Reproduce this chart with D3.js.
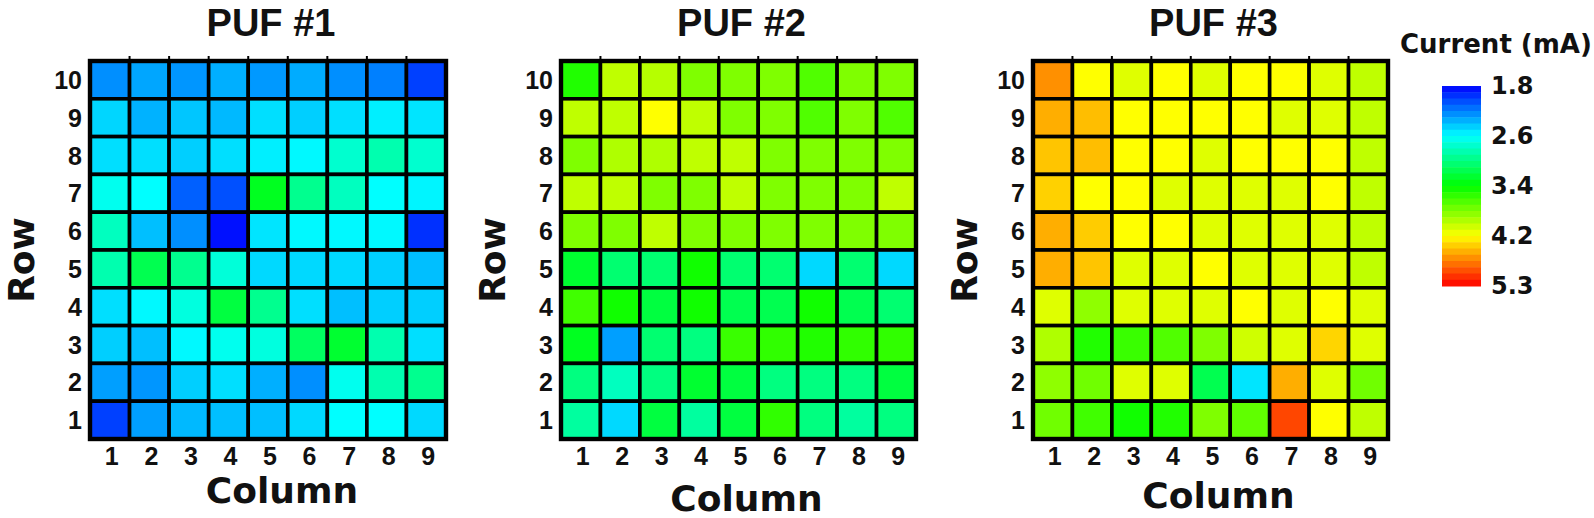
<!DOCTYPE html>
<html>
<head>
<meta charset="utf-8">
<script src="https://cdn.jsdelivr.net/npm/d3@7"></script>
<style>
  body { margin: 0; background: #fff; }
  svg { display: block; }
</style>
</head>
<body>
<div id="chart"></div>
<script>
// data, rows listed top (10) to bottom (1)
const columns = [1, 2, 3, 4, 5, 6, 7, 8, 9];
const rows = [10, 9, 8, 7, 6, 5, 4, 3, 2, 1];
const panelTitles = ["PUF #1", "PUF #2", "PUF #3"];

const puf1Values = [
    [2.25, 2.32, 2.27, 2.35, 2.28, 2.34, 2.25, 2.20, 2.00],
    [2.47, 2.36, 2.42, 2.38, 2.50, 2.45, 2.50, 2.55, 2.52],
    [2.50, 2.50, 2.45, 2.50, 2.55, 2.58, 2.75, 2.85, 2.75],
    [2.65, 2.60, 2.10, 2.05, 3.30, 2.95, 2.80, 2.60, 2.57],
    [2.80, 2.40, 2.25, 1.85, 2.52, 2.58, 2.58, 2.58, 1.95],
    [2.85, 3.15, 2.95, 2.72, 2.48, 2.48, 2.48, 2.45, 2.40],
    [2.50, 2.58, 2.70, 3.20, 2.95, 2.50, 2.40, 2.45, 2.45],
    [2.45, 2.40, 2.58, 2.65, 2.70, 3.10, 3.25, 2.85, 2.50],
    [2.30, 2.27, 2.45, 2.50, 2.35, 2.25, 2.65, 2.85, 2.95],
    [2.00, 2.30, 2.38, 2.40, 2.40, 2.48, 2.60, 2.60, 2.48]
];
const puf2Values = [
    [3.50, 4.00, 3.97, 3.80, 3.80, 3.80, 3.65, 3.80, 3.80],
    [4.00, 4.00, 4.20, 4.00, 3.80, 3.80, 3.65, 3.80, 3.65],
    [3.80, 3.95, 3.95, 4.00, 4.00, 3.80, 3.80, 3.80, 3.80],
    [4.00, 4.00, 3.80, 3.80, 4.00, 3.80, 3.80, 3.80, 4.00],
    [3.80, 3.80, 4.00, 3.80, 3.80, 3.80, 3.80, 3.80, 3.80],
    [3.25, 3.05, 3.05, 3.45, 3.05, 3.05, 2.48, 3.05, 2.48],
    [3.60, 3.45, 3.20, 3.45, 3.15, 3.15, 3.45, 3.15, 3.05],
    [3.30, 2.30, 3.05, 3.00, 3.58, 3.55, 3.50, 3.55, 3.55],
    [3.00, 2.80, 3.00, 3.25, 3.20, 3.00, 3.00, 3.00, 3.20],
    [2.90, 2.48, 3.20, 2.90, 3.20, 3.55, 3.00, 2.90, 3.00]
];
const puf3Values = [
    [4.68, 4.20, 4.10, 4.20, 4.10, 4.20, 4.20, 4.10, 4.00],
    [4.55, 4.48, 4.20, 4.20, 4.20, 4.20, 4.10, 4.10, 4.00],
    [4.45, 4.48, 4.20, 4.20, 4.10, 4.20, 4.20, 4.20, 4.00],
    [4.40, 4.20, 4.20, 4.10, 4.10, 4.10, 4.10, 4.20, 4.00],
    [4.55, 4.42, 4.20, 4.20, 4.10, 4.10, 4.10, 4.10, 4.00],
    [4.55, 4.45, 4.10, 4.10, 4.20, 4.10, 4.10, 4.10, 4.00],
    [4.10, 3.85, 4.10, 4.10, 4.10, 4.20, 4.10, 4.20, 4.10],
    [3.95, 3.50, 3.58, 3.65, 3.80, 4.05, 4.10, 4.38, 4.10],
    [3.85, 3.75, 4.10, 4.10, 3.15, 2.52, 4.55, 4.10, 3.75],
    [3.75, 3.60, 3.45, 3.50, 3.80, 3.70, 5.00, 4.20, 4.00]
];
const colorTicks = [1.8, 2.6, 3.4, 4.2, 5.3];
const colorbarTitle = "Current (mA)";

class HeatmapVis{
    constructor(svg, values, title, layout, color){
        this.svg = svg;
        this.values = values;
        this.title = title;
        this.layout = layout;
        this.color = color;
        this.initVis();
    }
    initVis(){
        let vis = this;
        let L = vis.layout;
        vis.g = vis.svg.append("g");

        vis.x = d3.scaleBand().domain(columns).range([L.x0, L.x0 + L.w]);
        vis.y = d3.scaleBand().domain(rows).range([L.y0, L.y0 + L.h]);

        // flatten the grid
        let cells = [];
        vis.values.forEach((r, i) => {
            r.forEach((v, j) => cells.push({row: rows[i], col: columns[j], value: v}));
        });

        vis.g.selectAll(".cell")
            .data(cells)
            .enter()
            .append("rect")
            .attr("class", "cell")
            .attr("x", d => vis.x(d.col))
            .attr("y", d => vis.y(d.row))
            .attr("width", vis.x.bandwidth())
            .attr("height", vis.y.bandwidth())
            .attr("fill", d => vis.color(d.value))
            .attr("stroke", "#000")
            .attr("stroke-width", 3.6);

        // outer frame
        vis.g.append("rect")
            .attr("x", L.x0).attr("y", L.y0)
            .attr("width", L.w).attr("height", L.h)
            .attr("fill", "none")
            .attr("stroke", "#000")
            .attr("stroke-width", 4.4);

        // little ticks over the top edge
        vis.g.selectAll(".topTick")
            .data(columns.slice(1))
            .enter()
            .append("line")
            .attr("x1", d => vis.x(d)).attr("x2", d => vis.x(d))
            .attr("y1", L.y0 - 5).attr("y2", L.y0)
            .attr("stroke", "#000")
            .attr("stroke-width", 2);

        // row labels
        vis.g.selectAll(".rowLabel")
            .data(rows)
            .enter()
            .append("text")
            .attr("class", "rowLabel")
            .attr("x", L.x0 - 8)
            .attr("y", d => vis.y(d) + vis.y.bandwidth()/2)
            .attr("dy", "0.36em")
            .attr("text-anchor", "end")
            .text(d => d);

        // column labels
        vis.g.selectAll(".colLabel")
            .data(columns)
            .enter()
            .append("text")
            .attr("class", "colLabel")
            .attr("x", d => vis.x(d) + vis.x.bandwidth()/2 + 2)
            .attr("y", L.y0 + L.h + 26)
            .attr("text-anchor", "middle")
            .text(d => d);

        vis.g.append("text")
            .attr("class", "panelTitle")
            .attr("x", L.x0 + L.w/2 + 3)
            .attr("y", 36)
            .attr("text-anchor", "middle")
            .text(vis.title);

        vis.g.append("text")
            .attr("class", "axisTitle")
            .attr("x", L.x0 + L.w/2 + L.colDx)
            .attr("y", L.colY)
            .attr("text-anchor", "middle")
            .text("Column");

        vis.g.append("text")
            .attr("class", "axisTitle")
            .attr("transform", `translate(${L.x0 - 56},${L.y0 + L.h/2 + 10}) rotate(-90)`)
            .attr("text-anchor", "middle")
            .text("Row");
    }
}

const width = 1594, height = 518;
const svg = d3.select("#chart").append("svg")
    .attr("width", width)
    .attr("height", height);

svg.append("style").text(`
    .rowLabel, .colLabel { font-family: "Liberation Sans", Arial, sans-serif; font-weight: bold; font-size: 25px; fill: #111; }
    .panelTitle { font-family: "Liberation Sans", Arial, sans-serif; font-weight: bold; font-size: 38px; fill: #111; }
    .axisTitle { font-family: "DejaVu Sans", sans-serif; font-weight: bold; font-size: 36px; fill: #111; }
    .cbText { font-family: "DejaVu Sans", sans-serif; font-weight: bold; fill: #111; }
`);

// jet style colour map, blue at low current, red at high
const color = d3.scaleLinear()
    .domain(colorTicks)
    .range(["#0000ff", "#00ffff", "#00ff00", "#ffff00", "#ff0000"])
    .clamp(true);

const panelLayout = [
    {x0: 90, y0: 61, w: 356, h: 378, colY: 503, colDx: 14},
    {x0: 561, y0: 61, w: 355, h: 378, colY: 511, colDx: 8},
    {x0: 1033, y0: 61, w: 355, h: 378, colY: 508, colDx: 8}
];
[puf1Values, puf2Values, puf3Values].forEach((vals, i) => {
    new HeatmapVis(svg, vals, panelTitles[i], panelLayout[i], color);
});

// colour bar
const bar = {x: 1442, y: 86, w: 39, h: 200, bands: 32};
const barScale = d3.scaleLinear()
    .domain(colorTicks)
    .range(colorTicks.map((d, i) => bar.y + i * bar.h/(colorTicks.length - 1)));

const bandH = bar.h / bar.bands;
svg.append("g").selectAll("rect")
    .data(d3.range(bar.bands))
    .enter()
    .append("rect")
    .attr("x", bar.x)
    .attr("y", i => bar.y + i * bandH)
    .attr("width", bar.w)
    .attr("height", bandH + 0.5)
    .attr("fill", i => color(barScale.invert(bar.y + (i + 0.5) * bandH)));

const barAxis = d3.axisRight(barScale)
    .tickValues(colorTicks)
    .tickSize(0)
    .tickPadding(10)
    .tickFormat(d3.format(".1f"));

const axG = svg.append("g")
    .attr("transform", `translate(${bar.x + bar.w},0)`)
    .call(barAxis);
axG.select(".domain").remove();
axG.selectAll("text")
    .attr("class", "cbText")
    .attr("font-size", null)
    .attr("font-family", null)
    .style("font-size", "24px")
    .attr("dy", "0.3em");

svg.append("text")
    .attr("class", "cbText")
    .attr("x", 1400)
    .attr("y", 53)
    .style("font-size", "26px")
    .text(colorbarTitle);
</script>
</body>
</html>
